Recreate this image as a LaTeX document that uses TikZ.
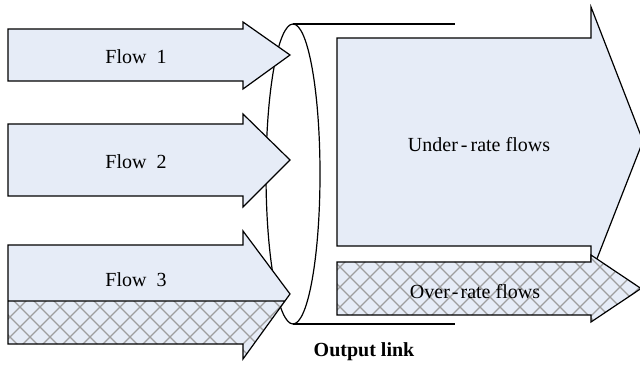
\documentclass[tikz,border=0pt]{standalone}
\usepackage{fontspec}
\setmainfont{Liberation Serif}
\usetikzlibrary{patterns}
\definecolor{flowblue}{RGB}{230,236,247}
% diagonal net used for the over-rate part
\pgfdeclarepatternformonly{diamondnet}{\pgfqpoint{-1pt}{-1pt}}{\pgfqpoint{11pt}{11pt}}
  {\pgfqpoint{10pt}{10pt}}{%
  \pgfsetlinewidth{0.55pt}%
  \pgfpathmoveto{\pgfqpoint{0pt}{0pt}}\pgfpathlineto{\pgfqpoint{10pt}{10pt}}%
  \pgfpathmoveto{\pgfqpoint{0pt}{10pt}}\pgfpathlineto{\pgfqpoint{10pt}{0pt}}%
  \pgfusepath{stroke}}

\begin{document}
\begin{tikzpicture}[x=0.5pt,y=-0.5pt,font=\fontsize{10}{12}\selectfont,
    edge/.style={black,line width=.6pt,line join=miter},
    plain/.style={edge,fill=flowblue},
    netted/.style={pattern=diamondnet,pattern color=black!38,preaction={fill=flowblue}}]
  \useasboundingbox (0,0) rectangle (640,367);
  % output link, drawn first so the flows sit on it
  \draw[edge] (293,24)--(455,24) (293,324)--(455,324);
  \draw[edge] (293,174) ellipse [x radius=27,y radius=150];
  \foreach \hu/\bu/\bd/\hd/\k in {22/29/81/89/1,114/124/196/207/2}{
    \draw[plain] (8,\bu)--(243,\bu)--(243,\hu)--(290,{(\bu+\bd)/2})--(243,\hd)
      --(243,\bd)--(8,\bd)--cycle;
    \node (flow\k) at (136,{(\bu+\bd)/2+2}) {Flow\ \ \k};
  }
  % flow 3 is split in two parts
  \fill[flowblue] (8,245)--(243,245)--(243,231)--(290,294)--(285,301)--(8,301)--cycle;
  \path[netted] (8,301)--(285,301)--(243,359)--(243,344)--(8,344)--cycle;
  \draw[edge] (8,245)--(243,245)--(243,231)--(290,294)--(243,359)--(243,344)
    --(8,344)--cycle (8,301)--(285,301);
  \node (flow3) at (136,280) {Flow\ \ 3};
  \draw[plain] (337,38)--(591,38)--(591,7)--(643,141)--(591,274)--(591,246)
    --(337,246)--cycle;
  \draw[edge,netted] (337,262)--(591,262)--(591,255)--(641,288.5)--(591,322)
    --(591,315)--(337,315)--cycle;
  \node (under) at (479,145) {Under\kern1.5pt-\kern1.5pt rate flows};
  \node (over) at (475,292) {Over\kern1pt-\kern1pt rate flows};
  \node[font=\fontsize{10}{12}\selectfont\bfseries] (link) at (364,352) {Output link};
\end{tikzpicture}
\end{document}
